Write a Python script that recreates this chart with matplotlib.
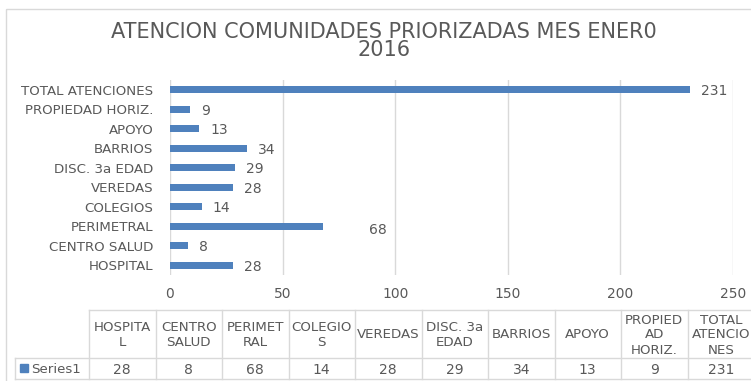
import matplotlib
matplotlib.use('Agg')
import matplotlib.pyplot as plt
from matplotlib.patches import Rectangle

plt.rcParams['font.family'] = ['DejaVu Sans']

# categories as they appear from bottom to top of the bar chart
categorias = ['HOSPITAL', 'CENTRO SALUD', 'PERIMETRAL', 'COLEGIOS', 'VEREDAS',
              'DISC. 3a EDAD', 'BARRIOS', 'APOYO', 'PROPIEDAD HORIZ.',
              'TOTAL ATENCIONES']
valores = [28, 8, 68, 14, 28, 29, 34, 13, 9, 231]
# wrapped headers used in the data table below the chart
encabezados = ['HOSPITA\nL', 'CENTRO\nSALUD', 'PERIMET\nRAL', 'COLEGIO\nS',
               'VEREDAS', 'DISC. 3a\nEDAD', 'BARRIOS', 'APOYO',
               'PROPIED\nAD\nHORIZ.', 'TOTAL\nATENCIO\nNES']
ticks_x = [0, 50, 100, 150, 200, 250]
serie = 'Series1'
titulo = 'ATENCION COMUNIDADES PRIORIZADAS MES ENER0\n2016'

AZUL = '#4F81BD'
GRIS_TXT = '#595959'
GRIS_LIN = '#D9D9D9'
FS = 9.6
FS_NUM = 10

W, H = 751, 381
fig = plt.figure(figsize=(W / 100, H / 100), dpi=100)

# overlay in pixel units for the frame, title and data table
ov = fig.add_axes([0, 0, 1, 1])
ov.set_xlim(0, W)
ov.set_ylim(H, 0)
ov.axis('off')
ov.add_patch(Rectangle((6, 9), W, H, fill=False, edgecolor=GRIS_LIN, lw=1))
ov.text(384, 41, titulo, ha='center', va='center', fontsize=15,
        color=GRIS_TXT, linespacing=0.92)

# bar chart
ax = fig.add_axes([170 / W, 1 - 275 / H, 563 / W, 195 / H])
y = range(len(categorias))
ax.barh(y, valores, height=0.36, color=AZUL, zorder=3)
ax.set_xlim(0, 250)
ax.set_ylim(-0.5, len(categorias) - 0.5)
ax.set_xticks(ticks_x)
ax.set_yticks(list(y))
ax.set_yticklabels(categorias)
ax.grid(axis='x', color=GRIS_LIN, lw=1, zorder=0)
for s in ax.spines.values():
    s.set_visible(False)
ax.tick_params(axis='both', length=0, colors=GRIS_TXT, labelsize=FS)
ax.tick_params(axis='x', labelsize=FS_NUM)
ax.tick_params(axis='y', pad=12)
ax.tick_params(axis='x', pad=9)

for i, v in enumerate(valores):
    dx, dy = (8, -1) if v != 68 else (33, -3)
    ax.annotate(str(v), (v, i), xytext=(dx, dy), textcoords='offset points',
                ha='left', va='center', fontsize=FS_NUM, color=GRIS_TXT)

# data table
x0, cw = 89, 66.5
t_top, t_mid, t_bot = 310, 358, 379
lab_left = 15
n = len(categorias)
x_end = x0 + cw * n
ov.plot([x0, x_end], [t_top, t_top], color=GRIS_LIN, lw=1)
ov.plot([lab_left, x_end], [t_mid, t_mid], color=GRIS_LIN, lw=1)
ov.plot([lab_left, x_end], [t_bot, t_bot], color=GRIS_LIN, lw=1)
ov.plot([lab_left, lab_left], [t_mid, t_bot], color=GRIS_LIN, lw=1)
for k in range(n + 1):
    ov.plot([x0 + cw * k] * 2, [t_top, t_bot], color=GRIS_LIN, lw=1)
for k in range(n):
    cx = x0 + cw * (k + 0.5)
    ov.text(cx, (t_top + t_mid) / 2 + 1, encabezados[k], ha='center', va='center',
            fontsize=FS, color=GRIS_TXT, linespacing=1.2)
    ov.text(cx, (t_mid + t_bot) / 2 + 1, str(valores[k]), ha='center', va='center',
            fontsize=FS_NUM, color=GRIS_TXT)
ov.add_patch(Rectangle((20, 364), 8, 8, color=AZUL))
ov.text(31, (t_mid + t_bot) / 2 + 1, serie, ha='left', va='center',
        fontsize=FS, color=GRIS_TXT)

fig.savefig('out.png', dpi=100)
